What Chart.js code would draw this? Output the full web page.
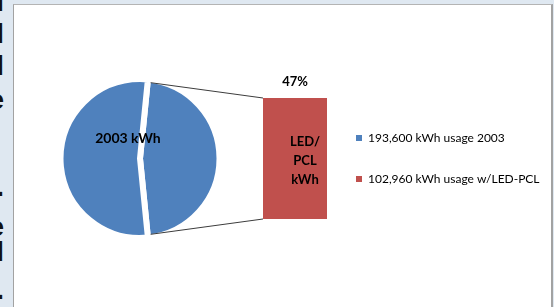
<!DOCTYPE html>
<html>
<head>
<meta charset="utf-8">
<script src="https://cdn.jsdelivr.net/npm/chart.js@4.4.1/dist/chart.umd.min.js"></script>
<style>
  html, body { margin: 0; padding: 0; width: 554px; height: 307px; overflow: hidden; background: #dfe8f1; }
  #panel { position: absolute; left: 13px; top: 4px; width: 537px; height: 310px; background: #fff;
           border-left: 1px solid #a2a2a2; border-top: 1px solid #b4b4b4; border-right: 2px solid #a2a2a2; }
  #strip { position: absolute; left: 0; top: 0; width: 4px; height: 307px; overflow: hidden;
           font: bold 28px "Liberation Sans"; color: #111; }
  #strip span { position: absolute; right: 0; line-height: 1; }
  canvas { position: absolute; left: 0; top: 0; }
</style>
</head>
<body>
<div id="strip">
  <span style="top:-12px">l</span>
  <span style="top:20px">l</span>
  <span style="top:52px">l</span>
  <span style="top:86px">e</span>
  <span style="top:173px">.</span>
  <span style="top:213px">e</span>
  <span style="top:238px">l</span>
  <span style="top:276px">.</span>
</div>
<div id="panel"></div>
<canvas id="pie" width="554" height="307"></canvas>
<canvas id="bar" width="554" height="307"></canvas>
<script>
const legendLabels = ['193,600 kWh usage 2003', '102,960 kWh usage w/LED-PCL'];
const pieLabels = ['LED/PCL kWh', '2003 kWh'];
const pieValues = [90640, 102960];
const barLabels = [['LED/', 'PCL', 'kWh']];
const barValues = [90640];

const blue = '#4f81bd';
const red = '#c0504d';
const font = 'Lato';
const legendSize = 12;

const total = pieValues.reduce((a, b) => a + b, 0);

// pie: the 47% slice faces the bar, gap made by a white border
const pieChart = new Chart(document.getElementById('pie'), {
  type: 'pie',
  data: {
    labels: pieLabels,
    datasets: [{
      data: pieValues,
      backgroundColor: [blue, blue],
      borderColor: '#ffffff',
      borderWidth: 6
    }]
  },
  options: {
    responsive: false,
    animation: false,
    rotation: 90 - 180 * pieValues[0] / total,
    radius: 79.5,
    layout: { padding: { left: 0, right: 274, top: 10, bottom: 0 } },
    plugins: { legend: { display: false }, tooltip: { enabled: false } }
  }
});

// legend width, so the bar's right edge lands where the legend starts
const mctx = document.createElement('canvas').getContext('2d');
mctx.font = legendSize + 'px ' + font;
const textW = Math.max(...legendLabels.map(t => mctx.measureText(t).width));
const legendPad = 29;
const legendW = legendPad + 6 + legendSize / 2 + textW + 10;
const barRight = 327;
const padRight = Math.max(554 - barRight - legendW, 0);

const overlay = {
  id: 'overlay',
  afterDatasetsDraw(chart) {
    const ctx = chart.ctx;
    const bar = chart.getDatasetMeta(0).data[0];
    const arcs = pieChart.getDatasetMeta(0).data;
    const slice = arcs[0];
    const r = slice.outerRadius - 3;
    const left = bar.x - bar.width / 2;

    ctx.save();
    ctx.strokeStyle = '#3c3c3c';
    ctx.lineWidth = 1;
    [[slice.startAngle, bar.y, Math.PI / 2], [slice.endAngle, bar.base, -Math.PI / 2]].forEach(([a, y, turn]) => {
      const px = slice.x + r * Math.cos(a) + 3 * Math.cos(a + turn);
      const py = slice.y + r * Math.sin(a) + 3 * Math.sin(a + turn);
      ctx.beginPath();
      ctx.moveTo(px, py);
      ctx.lineTo(left, y);
      ctx.stroke();
    });

    ctx.fillStyle = '#000';
    ctx.textAlign = 'center';
    ctx.textBaseline = 'middle';

    ctx.font = 'bold 13px ' + font;
    ctx.fillText(Math.round(pieValues[0] / total * 100) + '%', bar.x, bar.y - 16);
    barLabels[0].forEach((line, i) => {
      ctx.fillText(line, bar.x + 10, bar.y + 44 + i * 19);
    });

    ctx.font = 'bold 14px ' + font;
    ctx.fillText(pieLabels[1], arcs[1].x - 12, arcs[1].y - 20);
    ctx.restore();
  }
};

new Chart(document.getElementById('bar'), {
  type: 'bar',
  data: {
    labels: barLabels,
    datasets: [{
      data: barValues,
      backgroundColor: red,
      categoryPercentage: 1,
      barPercentage: 1
    }]
  },
  options: {
    responsive: false,
    animation: false,
    layout: { padding: { left: 263, top: 98, bottom: 88, right: padRight } },
    scales: {
      x: { display: false },
      y: { display: false, min: 0, max: Math.max(...barValues) }
    },
    plugins: {
      tooltip: { enabled: false },
      legend: {
        position: 'right',
        align: 'center',
        maxWidth: 1000,
        labels: {
          boxWidth: 6,
          boxHeight: 6,
          padding: legendPad,
          color: '#111',
          font: { family: font, size: legendSize },
          generateLabels: () => legendLabels.map((text, i) => ({
            text,
            fillStyle: [blue, red][i],
            strokeStyle: 'transparent',
            lineWidth: 0,
            hidden: false,
            datasetIndex: 0
          }))
        }
      }
    }
  },
  plugins: [overlay]
});
</script>
</body>
</html>
